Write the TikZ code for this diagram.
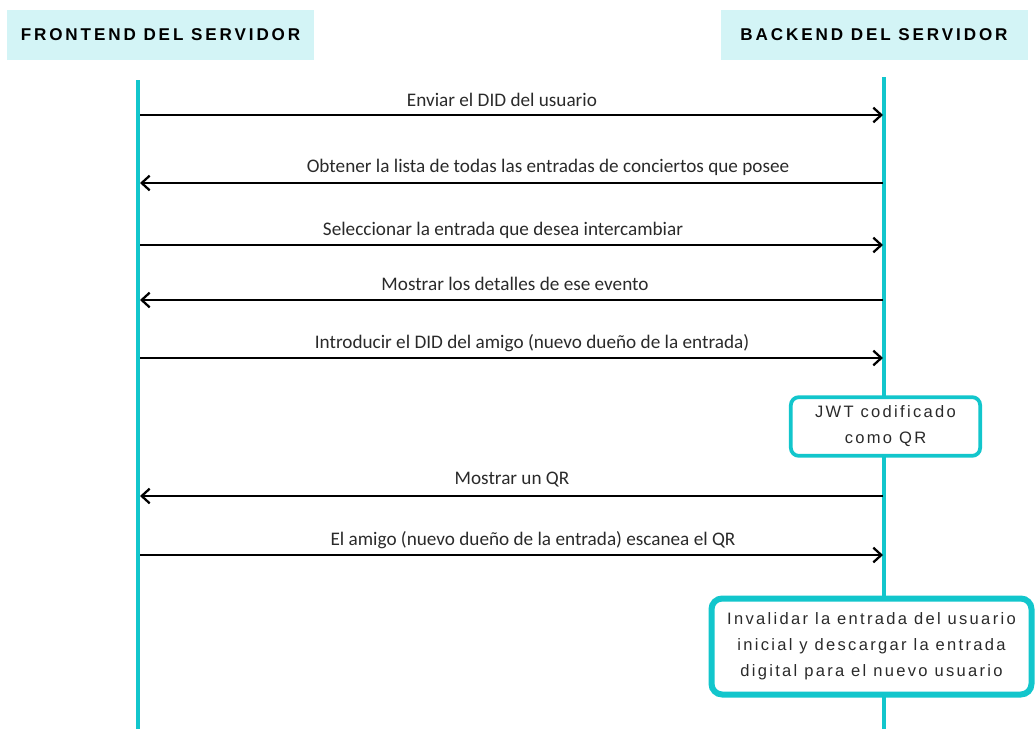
\documentclass[tikz,border=0pt]{standalone}
\usepackage{fontspec}
\usetikzlibrary{arrows.meta}
\setmainfont{Carlito}
\newfontfamily\headfont{Liberation Sans}[LetterSpace=17]
\newfontfamily\boxfont{Liberation Sans}[LetterSpace=14]
\definecolor{teal}{HTML}{12C6CC}
\definecolor{headbg}{HTML}{D3F4F6}
\definecolor{txt}{HTML}{2A2A2A}
\begin{document}
\begin{tikzpicture}[x=0.75pt,y=-0.75pt,
  head/.style={fill=headbg, draw=none, minimum width=230.25pt, minimum height=37.5pt, inner sep=0pt, font=\headfont\bfseries\fontsize{12.8}{14}\selectfont, text=black},
  life/.style={draw=teal, line width=2.6pt},
  msg/.style={draw=black, line width=1.7pt, -{Straight Barb[length=6pt,width=11pt]}},
  lbl/.style={font=\fontsize{14.4}{16}\selectfont, text=txt, inner sep=0pt},
  note/.style={draw=teal, fill=white, rounded corners=6pt, align=center, text=txt, inner sep=0pt, font=\boxfont\fontsize{12.4}{19.5}\selectfont}
]
\useasboundingbox (0,0) rectangle (1035,729);
% headers
\node[head] (fh) at (160.5,35) {FRONTEND DEL SERVIDOR};
\node[head] (bh) at (874,35) {BACKEND DEL SERVIDOR};
% lifelines
\coordinate (Ltop) at (138,80);
\coordinate (Lbot) at (138,729);
\coordinate (Rtop) at (884,77);
\coordinate (Rbot) at (884,729);
\draw[life] (Ltop) -- (Lbot);
\draw[life] (Rtop) -- (Rbot);
% message end points
\foreach \i/\y in {1/115,2/183,3/245,4/300,5/358,7/496,8/555}{
  \coordinate (L\i) at (140,\y);
  \coordinate (R\i) at (883,\y);
}
\draw[msg] (L1) -- (R1);
\draw[msg] (R2) -- (L2);
\draw[msg] (L3) -- (R3);
\draw[msg] (R4) -- (L4);
\draw[msg] (L5) -- (R5);
\draw[msg] (R7) -- (L7);
\draw[msg] (L8) -- (R8);
% labels
\node[lbl] (t1) at (502,100) {Enviar el DID del usuario};
\node[lbl] (t2) at (548,167) {Obtener la lista de todas las entradas de conciertos que posee};
\node[lbl] (t3) at (503,230) {Seleccionar la entrada que desea intercambiar};
\node[lbl] (t4) at (515,284) {Mostrar los detalles de ese evento};
\node[lbl] (t5) at (532,343) {Introducir el DID del amigo (nuevo dueño de la entrada)};
\node[lbl] (t7) at (512,480) {Mostrar un QR};
\node[lbl] (t8) at (533,540) {El amigo (nuevo dueño de la entrada) escanea el QR};
% notes
\node[note, line width=2.8pt, minimum width=142pt, minimum height=44pt] (jwt) at (885.5,426.5) {JWT codificado\\como QR};
\node[note, line width=4.5pt, minimum width=240pt, minimum height=72pt, rounded corners=8pt] (inv) at (871.5,646.5) {Invalidar la entrada del usuario\\inicial y descargar la entrada\\digital para el nuevo usuario};
\end{tikzpicture}
\end{document}
